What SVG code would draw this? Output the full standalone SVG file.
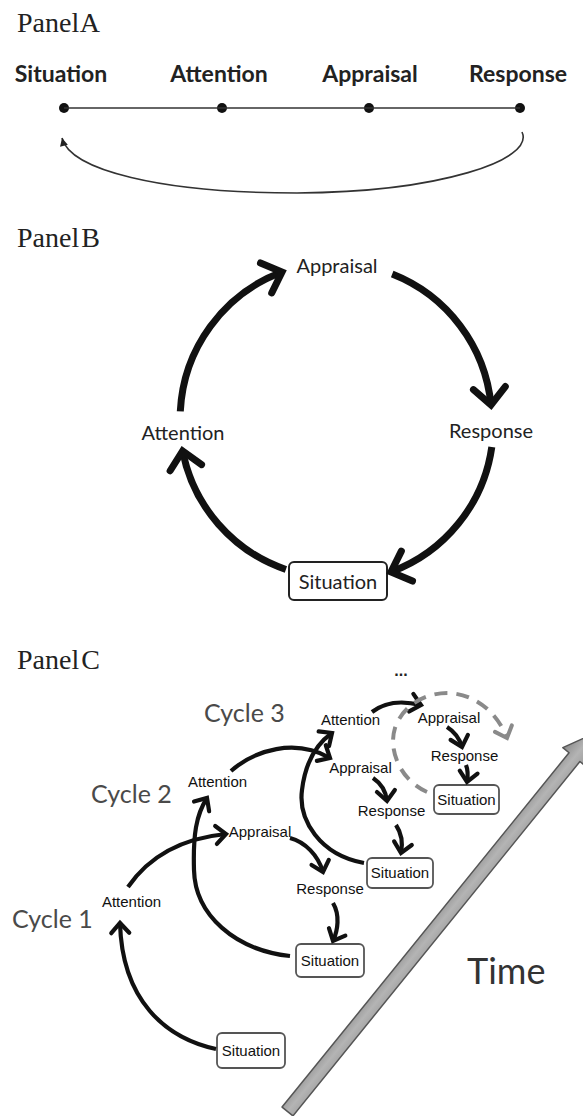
<svg xmlns="http://www.w3.org/2000/svg" width="583" height="1116" viewBox="0 0 583 1116">
<style>
.panel{font-family:"Liberation Serif",serif;font-size:28px;fill:#222;word-spacing:-5px}
.la{font-family:Lato,"Open Sans",sans-serif;font-weight:bold;font-size:23px;fill:#222;text-anchor:middle}
.lb{font-family:Lato,"Open Sans",sans-serif;font-size:20px;fill:#222;text-anchor:middle}
.lc{font-family:"Liberation Sans",Arial,sans-serif;font-size:15px;fill:#111;text-anchor:middle}
.cyc{font-family:Lato,"Open Sans",sans-serif;font-size:25px;fill:#4a4a4a}
.box{fill:#fff;stroke:#555;stroke-width:1.8}
.thinA{fill:none;stroke:#333;stroke-width:1.6}
.bigB{fill:none;stroke:#111;stroke-width:7;marker-end:url(#chevB)}
.arrC{fill:none;stroke:#111;stroke-width:4.2;marker-end:url(#chevC)}
.dash{fill:none;stroke:#8a8a8a;stroke-width:4;stroke-dasharray:13 9;marker-end:url(#chevG)}
</style>
<defs>
<marker id="triA" viewBox="-10 -6 12 12" refX="0" refY="0" markerWidth="12" markerHeight="12" markerUnits="userSpaceOnUse" orient="auto">
<path d="M0,0 L-8,-4 L-8,4 Z" fill="#222"/>
</marker>
<marker id="chevB" viewBox="-26 -24 32 48" refX="0" refY="0" markerWidth="32" markerHeight="48" markerUnits="userSpaceOnUse" orient="auto">
<path d="M-17,-16 L0,0 L-17,16" fill="none" stroke="#111" stroke-width="7" stroke-linecap="round" stroke-linejoin="miter"/>
</marker>
<marker id="chevC" viewBox="-16 -14 20 28" refX="0" refY="0" markerWidth="20" markerHeight="28" markerUnits="userSpaceOnUse" orient="auto">
<path d="M-10,-9 L0,0 L-10,9" fill="none" stroke="#111" stroke-width="4.2" stroke-linecap="round"/>
</marker>
<marker id="chevG" viewBox="-16 -14 20 28" refX="0" refY="0" markerWidth="20" markerHeight="28" markerUnits="userSpaceOnUse" orient="auto">
<path d="M-10,-9 L0,0 L-10,9" fill="none" stroke="#8a8a8a" stroke-width="4" stroke-linecap="round"/>
</marker>
<linearGradient id="barG" x1="0" y1="0" x2="0" y2="1">
<stop offset="0" stop-color="#8c8c8c"/>
<stop offset="0.5" stop-color="#b4b4b4"/>
<stop offset="1" stop-color="#9a9a9a"/>
</linearGradient>
</defs>
<rect width="583" height="1116" fill="#fff"/>

<!-- Panel A -->
<text class="panel" x="17" y="32">Panel A</text>
<g id="A-situation"><text class="la" x="61" y="82">Situation</text><circle cx="64" cy="108" r="5" fill="#111"/></g>
<g id="A-attention"><text class="la" x="219" y="82">Attention</text><circle cx="222" cy="108" r="5" fill="#111"/></g>
<g id="A-appraisal"><text class="la" x="370" y="82">Appraisal</text><circle cx="369" cy="108" r="5" fill="#111"/></g>
<g id="A-response"><text class="la" x="518" y="82">Response</text><circle cx="520" cy="108" r="5" fill="#111"/></g>
<g id="A-connectors">
<path class="thinA" d="M64,108 H520"/>
<path class="thinA" d="M522,132 C 535,160 440,192 297,193 C 160,193 70,170 62,138" marker-end="url(#triA)"/>
</g>

<!-- Panel B -->
<text class="panel" x="17" y="247">Panel B</text>
<g id="B-appraisal"><text class="lb" x="337" y="273">Appraisal</text></g>
<g id="B-attention"><text class="lb" x="183" y="440">Attention</text></g>
<g id="B-response"><text class="lb" x="491" y="438">Response</text></g>
<g id="B-situation"><rect x="289" y="562" width="98" height="38" rx="5" fill="#fff" stroke="#222" stroke-width="2"/><text class="lb" x="338" y="589">Situation</text></g>
<g id="B-connectors">
<path class="bigB" d="M180.3,411.4 A157,157 0 0 1 282,272"/>
<path class="bigB" d="M392.2,274 A157,157 0 0 1 491,405"/>
<path class="bigB" d="M491.8,446.9 A157,157 0 0 1 391,572"/>
<path class="bigB" d="M285.9,569.5 A157,157 0 0 1 182.6,451"/>
</g>

<!-- Panel C -->
<text class="panel" x="17" y="669">Panel C</text>
<text x="401" y="676" font-family="Liberation Sans,sans-serif" font-size="16" font-weight="bold" fill="#222" text-anchor="middle">...</text>
<text class="cyc" x="204" y="722">Cycle 3</text>
<text class="cyc" x="91" y="803">Cycle 2</text>
<text class="cyc" x="12" y="928">Cycle 1</text>

<g id="time-arrow">
<g transform="translate(287.5,1111.5) rotate(-51)">
<path d="M0,-7 L456,-7 L456,-15 L486,0 L456,15 L456,7 L0,7 Z" fill="url(#barG)" stroke="#555" stroke-width="1.5" stroke-linejoin="round"/>
</g>
<text x="467" y="984" font-family="Lato,sans-serif" font-size="36" fill="#333">Time</text>
</g>

<g id="c1-attention"><text class="lc" x="131.5" y="907">Attention</text></g>
<g id="c1-situation"><rect class="box" x="217" y="1033" width="68" height="35" rx="5"/><text class="lc" x="251" y="1056">Situation</text></g>
<g id="c2-attention"><text class="lc" x="217.5" y="787">Attention</text></g>
<g id="c2-appraisal"><text class="lc" x="260" y="837">Appraisal</text></g>
<g id="c2-response"><text class="lc" x="330" y="894">Response</text></g>
<g id="c2-situation"><rect class="box" x="296" y="944" width="68" height="33" rx="5"/><text class="lc" x="330" y="966">Situation</text></g>
<g id="c3-attention"><text class="lc" x="350.5" y="725">Attention</text></g>
<g id="c3-appraisal"><text class="lc" x="360.5" y="773">Appraisal</text></g>
<g id="c3-response"><text class="lc" x="391.5" y="816">Response</text></g>
<g id="c3-situation"><rect class="box" x="367" y="858" width="66" height="30" rx="5"/><text class="lc" x="400" y="878">Situation</text></g>
<g id="c4-appraisal"><text class="lc" x="449" y="723">Appraisal</text></g>
<g id="c4-response"><text class="lc" x="464.5" y="761">Response</text></g>
<g id="c4-situation"><rect class="box" x="434" y="785" width="65" height="29" rx="5"/><text class="lc" x="466.5" y="805">Situation</text></g>

<g id="C-connectors">
<path class="arrC" d="M216,1049 C 165,1038 122,1000 120,923"/>
<path class="arrC" d="M128,887 C 150,855 185,838 226,834"/>
<path class="arrC" d="M290,956 C 235,950 195,915 194,870 C 193,835 196,815 207,798"/>
<path class="arrC" d="M290,838 C 305,842 318,855 323,872"/>
<path class="arrC" d="M333,903 C 340,915 338,930 333,941"/>
<path class="arrC" d="M231,771 C 255,750 295,738 330,758"/>
<path class="arrC" d="M364,863 C 320,855 298,820 302,790 C 305,765 315,745 332,733"/>
<path class="arrC" d="M373,778 C 382,784 386,792 387,801"/>
<path class="arrC" d="M396,825 C 402,834 403,843 401,853"/>
<path class="arrC" d="M372,712 C 385,702 400,700 421,705"/>
<path class="arrC" d="M447,727 C 455,732 460,740 462,747"/>
<path class="arrC" d="M466,765 C 468,770 468,776 467,782"/>
<path class="dash" d="M427,792 C 400,780 388,750 395,728 C 403,705 425,693 448,693 C 475,694 497,712 507,738"/>
</g>
</svg>
